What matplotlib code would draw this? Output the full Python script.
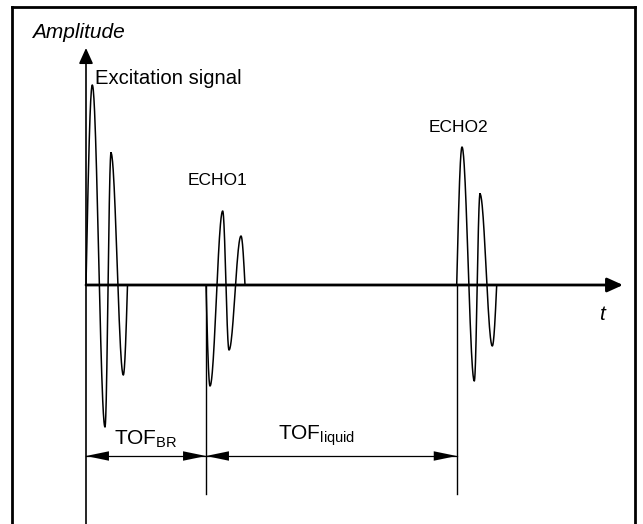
import numpy as np
import matplotlib
matplotlib.use("Agg")
import matplotlib.pyplot as plt
from matplotlib.patches import FancyArrowPatch

plt.rcParams['font.family'] = ['Liberation Sans', 'DejaVu Sans']
plt.rcParams['mathtext.fontset'] = 'custom'
plt.rcParams['mathtext.rm'] = 'Liberation Sans'

# pulse extremes: time (arb. units) and amplitude
exc_t = [0.0, 0.63, 1.9, 2.5, 3.73, 4.15]
exc_a = [0.0, 2.00, -1.42, 1.32, -0.90, 0.0]

echo1_t = [12.0, 12.4, 13.67, 14.3, 15.5, 15.9]
echo1_a = [0.0, -1.01, 0.74, -0.65, 0.49, 0.0]

echo2_t = [37.07, 37.6, 38.83, 39.4, 40.63, 41.07]
echo2_a = [0.0, 1.38, -0.96, 0.91, -0.61, 0.0]

tof_br = (0.0, 12.0)
tof_liquid = (12.0, 37.07)
marker_bottom = -2.09
tof_level = -1.71


def burst(ts, amps, n=40):
    # quarter sine out of zero, half cosines between extremes, quarter back to zero
    xs, ys = [], []
    last = len(ts) - 2
    for i in range(len(ts) - 1):
        s = np.linspace(0, 1, n)
        x = ts[i] + s * (ts[i + 1] - ts[i])
        if i == 0:
            y = amps[1] * np.sin(np.pi / 2 * s)
        elif i == last:
            y = amps[i] * np.cos(np.pi / 2 * s)
        else:
            y = amps[i] + (amps[i + 1] - amps[i]) * (1 - np.cos(np.pi * s)) / 2
        xs.append(x)
        ys.append(y)
    return np.concatenate(xs), np.concatenate(ys)


fig = plt.figure(figsize=(6.43, 5.24), dpi=100)
ax = fig.add_axes([12 / 643, 0, 623 / 643, 517 / 524])
ax.set_xlim(-7.4, 54.9)
ax.set_ylim(-2.39, 2.78)
ax.set_xticks([])
ax.set_yticks([])
for side in ['left', 'top', 'right']:
    ax.spines[side].set_linewidth(2.0)
ax.spines['bottom'].set_visible(False)

# axes of the sketch
ax.add_patch(FancyArrowPatch((0, -2.39), (0, 2.37), arrowstyle='-|>,head_length=9.5,head_width=4.3',
                             mutation_scale=1, lw=1.2, color='black', shrinkA=0, shrinkB=0))
ax.add_patch(FancyArrowPatch((0, 0), (53.7, 0), arrowstyle='-|>,head_length=9.5,head_width=4.3',
                             mutation_scale=1, lw=2.0, color='black', shrinkA=0, shrinkB=0))

for ts, amps in [(exc_t, exc_a), (echo1_t, echo1_a), (echo2_t, echo2_a)]:
    x, y = burst(ts, amps)
    ax.plot(x, y, color='black', lw=1.1)

# markers at echo arrivals
for t0 in [echo1_t[0], echo2_t[0]]:
    ax.plot([t0, t0], [0, marker_bottom], color='black', lw=1.0)

# dimension arrows: thin shaft plus heads drawn without outline so tips touch the markers
for a, b in [tof_br, tof_liquid]:
    ax.plot([a, b], [tof_level, tof_level], color='black', lw=0.9)
    ax.add_patch(FancyArrowPatch((a, tof_level), (b, tof_level), arrowstyle='<|-|>,head_length=16.5,head_width=3.4',
                                 mutation_scale=1, lw=0.01, color='black', shrinkA=0, shrinkB=0))

ax.text(-5.35, 2.52, 'Amplitude', style='italic', fontsize=15, ha='left', va='center')
ax.text(0.9, 2.07, 'Excitation signal', fontsize=14.6, ha='left', va='center')
ax.text(13.15, 1.04, 'ECHO1', fontsize=12.5, ha='center', va='center')
ax.text(37.2, 1.57, 'ECHO2', fontsize=12.5, ha='center', va='center')
ax.text(51.6, -0.30, 't', style='italic', fontsize=15, ha='center', va='center')
ax.text(6.0, -1.59, r'TOF$_{\mathrm{BR}}$', fontsize=15, ha='center', va='baseline')
ax.text(23.1, -1.54, r'TOF$_{\mathrm{liquid}}$', fontsize=15, ha='center', va='baseline')

fig.savefig('out.png', dpi=100)
